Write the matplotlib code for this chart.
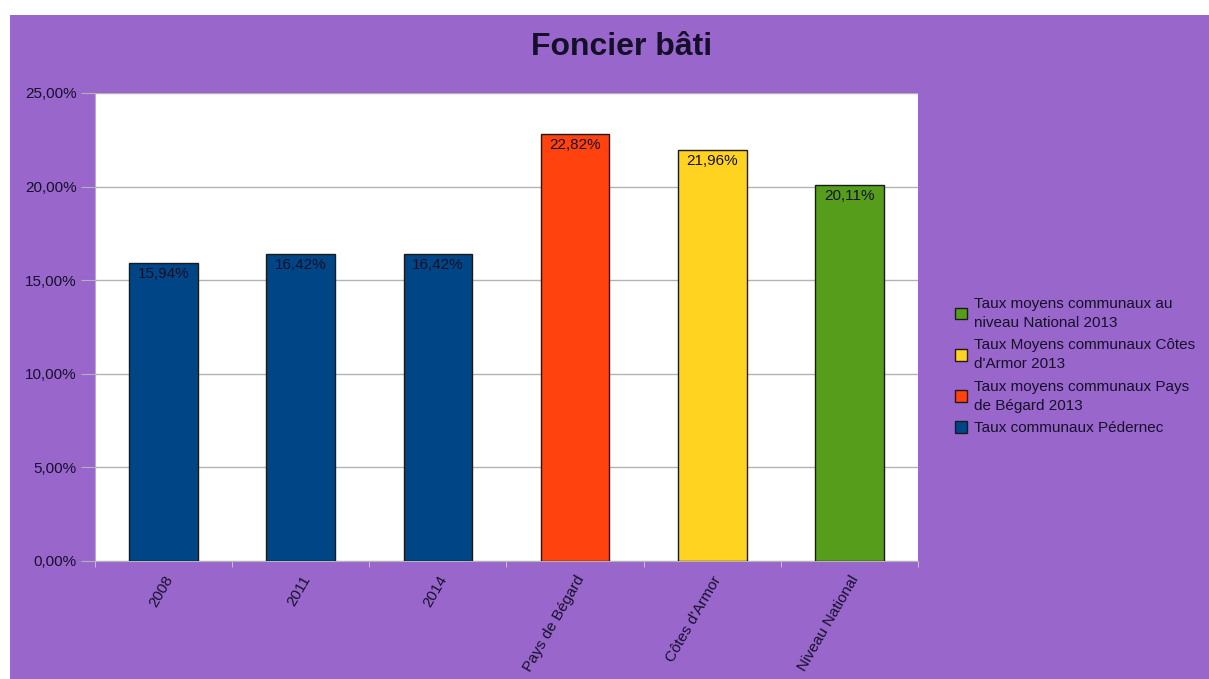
import matplotlib.pyplot as plt
from matplotlib.patches import Rectangle
from matplotlib.ticker import FuncFormatter, FixedLocator

plt.rcParams['font.family'] = ['Liberation Sans', 'DejaVu Sans']

# Data
categories = ['2008', '2011', '2014', 'Pays de Bégard', "Côtes d'Armor", 'Niveau National']
values = [15.94, 16.42, 16.42, 22.82, 21.96, 20.11]
series_idx = [0, 0, 0, 1, 2, 3]
series_names = ['Taux communaux Pédernec',
                'Taux moyens communaux Pays\nde Bégard 2013',
                "Taux Moyens communaux Côtes\nd'Armor 2013",
                'Taux moyens communaux au\nniveau National 2013']
series_colors = ['#004586', '#ff420e', '#ffd320', '#579d1c']

W, H = 1209, 679
purple = '#9966cc'
text_col = '#15102a'

fig = plt.figure(figsize=(W / 100, H / 100), dpi=100)
fig.patch.set_facecolor('white')
fig.patches.append(Rectangle((10 / W, 0), 1 - 10 / W, 1 - 15 / H,
                             transform=fig.transFigure, facecolor=purple,
                             edgecolor='none', zorder=-10))

ax = fig.add_axes([95 / W, 1 - 561 / H, (918 - 95) / W, (561 - 93) / H])
ax.set_facecolor('white')

x = range(len(categories))
colors = [series_colors[i] for i in series_idx]
bars = ax.bar(x, values, width=0.5, color=colors, edgecolor='#1a1a1a', linewidth=1, zorder=3)

for b, v in zip(bars, values):
    ax.annotate(f'{v:.2f}%'.replace('.', ','), (b.get_x() + b.get_width() / 2, v),
                xytext=(0, -3), textcoords='offset points', ha='center', va='top',
                fontsize=11, color=text_col, zorder=4)

ax.set_xlim(-0.5, len(categories) - 0.5)
ax.set_ylim(0, 25)
ax.set_yticks([0, 5, 10, 15, 20, 25])
ax.yaxis.set_major_formatter(FuncFormatter(lambda v, p: f'{v:.2f}%'.replace('.', ',')))
ax.grid(axis='y', color='#b3b3b3', linewidth=1, zorder=0)

ax.set_xticks(list(x))
ax.set_xticklabels(categories, rotation=60, ha='right', rotation_mode='anchor')
ax.xaxis.set_minor_locator(FixedLocator([i - 0.5 for i in range(len(categories) + 1)]))
ax.tick_params(axis='x', which='major', length=0, pad=9, labelsize=11, labelcolor=text_col)
ax.tick_params(axis='x', which='minor', length=4, color='#d8c8ee')
ax.tick_params(axis='y', length=10, color='#b3b3b3', labelsize=11, labelcolor=text_col, pad=3)

for s in ['top', 'right']:
    ax.spines[s].set_visible(False)
for s in ['left', 'bottom']:
    ax.spines[s].set_color('#b3b3b3')

fig.text(622 / W, 1 - 47 / H, 'Foncier bâti', ha='center', va='center',
         fontsize=23, fontweight='bold', color=text_col)

handles = [Rectangle((0, 0), 1, 1, facecolor=c, edgecolor='#1a1a1a', linewidth=1)
           for c in series_colors]
leg = fig.legend(handles[::-1], series_names[::-1], loc='center left',
                 bbox_to_anchor=(947 / W, 1 - 366 / H), frameon=False,
                 fontsize=11, handlelength=0.8, handleheight=0.8, handletextpad=0.5,
                 labelspacing=0.55, borderpad=0)
for t in leg.get_texts():
    t.set_color(text_col)
    t.set_linespacing(1.45)

fig.savefig('out.png', dpi=100)
